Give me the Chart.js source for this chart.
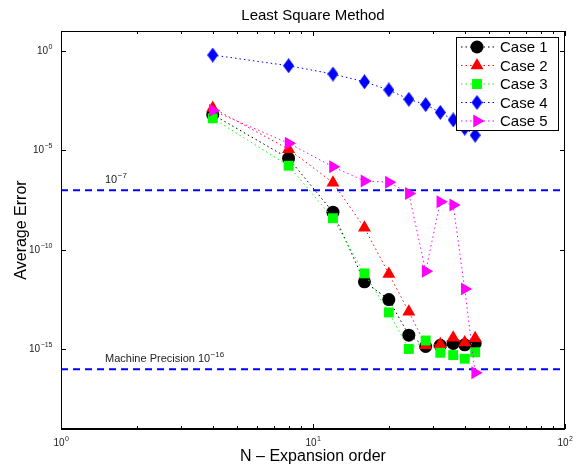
<!DOCTYPE html>
<html>
<head>
<meta charset="utf-8">
<script src="https://cdn.jsdelivr.net/npm/chart.js@4.4.0/dist/chart.umd.min.js"></script>
<style>
  html, body { margin: 0; padding: 0; background: #fff; }
</style>
</head>
<body>
<canvas id="errorChart" width="581" height="466"></canvas>
<script>
// N - expansion order
const orders = [4, 8, 12, 16, 20, 24, 28, 32, 36, 40, 44];

// average error per case
const case1 = [6.3e-4, 4.0e-6, 7.9e-9, 2.5e-12, 3.2e-13, 5.2e-15, 1.4e-15, 1.6e-15, 2.0e-15, 1.7e-15, 2.0e-15];
const case2 = [1.35e-3, 1.15e-5, 2.4e-7, 1.3e-9, 6.2e-12, 7.9e-14, 1.6e-15, 1.8e-15, 3.9e-15, 2.2e-15, 3.6e-15];
const case3 = [4.1e-4, 1.7e-6, 3.9e-9, 6.6e-12, 7.2e-14, 1.05e-15, 2.8e-15, 6.8e-16, 5.2e-16, 3.4e-16, 7.2e-16];
const case4 = [0.62, 0.18, 0.069, 0.028, 0.011, 3.7e-3, 2.0e-3, 8.1e-4, 3.4e-4, 1.3e-4, 5.8e-5];
const case5 = [1.0e-3, 2.3e-5, 1.5e-6, 2.9e-7, 2.5e-7, 6.9e-8, 8.5e-12, 2.6e-8, 1.8e-8, 1.1e-12, 6.8e-17];

const caseNames = ['Case 1', 'Case 2', 'Case 3', 'Case 4', 'Case 5'];

// axes
const xRange = [1, 100];
const yRange = [1e-19, 10];
const xTickExp = [0, 1, 2];
const yTickExp = [0, -5, -10, -15];

// reference lines
const tolerance = 1e-7;
const machinePrecision = 1e-16;

const FONT = '"Liberation Sans", Arial, Helvetica, sans-serif';

function diamond(color, w, h) {
  const c = document.createElement('canvas');
  c.width = w; c.height = h;
  const g = c.getContext('2d');
  g.fillStyle = color;
  g.beginPath();
  g.moveTo(w / 2, 0);
  g.lineTo(w, h / 2);
  g.lineTo(w / 2, h);
  g.lineTo(0, h / 2);
  g.closePath();
  g.fill();
  return c;
}

function pts(values) {
  return orders.map((n, i) => ({ x: n, y: values[i] }));
}

function series(label, values, color, style, radius, rotation, order) {
  return {
    label: label,
    data: pts(values),
    borderColor: color,
    backgroundColor: color,
    borderWidth: 1,
    borderDash: [1.5, 3],
    pointStyle: style,
    pointRadius: radius,
    pointRotation: rotation,
    pointBorderWidth: 0,
    pointBackgroundColor: color,
    order: order
  };
}

function refLine(value) {
  return {
    label: '',
    data: [{ x: xRange[0], y: value }, { x: xRange[1], y: value }],
    borderColor: '#0000ff',
    borderWidth: 2,
    borderDash: [7, 5],
    pointRadius: 0,
    order: 10,
    isRef: true
  };
}

const datasets = [
  series(caseNames[0], case1, '#000000', 'circle', 6.5, 0, 5),
  series(caseNames[1], case2, '#ff0000', 'triangle', 7.5, 0, 4),
  series(caseNames[2], case3, '#00ff00', 'rect', 7, 0, 3),
  series(caseNames[3], case4, '#0000ff', diamond('#0000ff', 11, 15), 7, 0, 2),
  series(caseNames[4], case5, '#ff00ff', 'triangle', 7.5, 90, 1),
  refLine(tolerance),
  refLine(machinePrecision)
];

function powText(ctx, exp, x, baseline, align, size) {
  const base = '10';
  const sup = String(exp).replace('-', '\u2212');
  ctx.font = size + 'px ' + FONT;
  const bw = ctx.measureText(base).width;
  const supSize = Math.round(size * 0.72);
  ctx.font = supSize + 'px ' + FONT;
  const sw = ctx.measureText(sup).width;
  let left = x;
  if (align === 'right') left = x - bw - sw;
  if (align === 'center') left = x - (bw + sw) / 2;
  ctx.textAlign = 'left';
  ctx.textBaseline = 'alphabetic';
  ctx.font = size + 'px ' + FONT;
  ctx.fillText(base, left, baseline);
  ctx.font = supSize + 'px ' + FONT;
  ctx.fillText(sup, left + bw + 0.5, baseline - size * 0.5);
  return left + bw + sw;
}

const framePlugin = {
  id: 'frame',
  afterDraw(chart) {
    const ctx = chart.ctx;
    const a = chart.chartArea;
    const xs = chart.scales.x, ys = chart.scales.y;
    ctx.save();
    ctx.fillStyle = '#000';
    ctx.strokeStyle = '#000';

    // box
    ctx.lineWidth = 1;
    ctx.strokeRect(a.left + 0.5, a.top + 0.5, a.right - a.left - 1, a.bottom - a.top);
    ctx.lineWidth = 2;
    ctx.beginPath();
    ctx.moveTo(a.left, a.bottom);
    ctx.lineTo(a.right, a.bottom);
    ctx.stroke();

    // x ticks (major + minor), inside, top and bottom
    ctx.lineWidth = 1;
    ctx.beginPath();
    for (let d = 0; d < 2; d++) {
      for (let m = 1; m <= 10; m++) {
        const px = Math.round(xs.getPixelForValue(m * Math.pow(10, d))) + 0.5;
        const len = (m === 1 || m === 10) ? 5 : 3;
        ctx.moveTo(px, a.bottom); ctx.lineTo(px, a.bottom - len);
        ctx.moveTo(px, a.top); ctx.lineTo(px, a.top + len);
      }
    }
    // y ticks, inside, left and right
    yTickExp.forEach(e => {
      const py = Math.round(ys.getPixelForValue(Math.pow(10, e))) + 0.5;
      ctx.moveTo(a.left, py); ctx.lineTo(a.left + 5, py);
      ctx.moveTo(a.right, py); ctx.lineTo(a.right - 5, py);
    });
    ctx.stroke();

    // tick labels
    ctx.fillStyle = '#222';
    xTickExp.forEach(e => {
      powText(ctx, e, xs.getPixelForValue(Math.pow(10, e)), a.bottom + 17, 'center', 10);
    });
    yTickExp.forEach(e => {
      powText(ctx, e, a.left - 9, ys.getPixelForValue(Math.pow(10, e)) + 3, 'right', 10);
    });

    // reference line notes
    powText(ctx, -7, 105, ys.getPixelForValue(tolerance) - 7, 'left', 11);
    ctx.font = '11px ' + FONT;
    ctx.textAlign = 'left';
    const mp = 'Machine Precision ';
    ctx.fillText(mp, 105, ys.getPixelForValue(machinePrecision) - 7);
    powText(ctx, -16, 105 + ctx.measureText(mp).width, ys.getPixelForValue(machinePrecision) - 7, 'left', 11);

    // title and axis labels
    ctx.fillStyle = '#000';
    const cx = (a.left + a.right) / 2;
    ctx.textAlign = 'center';
    ctx.textBaseline = 'middle';
    ctx.font = '15px ' + FONT;
    ctx.fillText('Least Square Method', cx, 16);
    ctx.font = '16px ' + FONT;
    ctx.fillText('N \u2013 Expansion order', cx, 457);
    ctx.save();
    ctx.translate(22, (a.top + a.bottom) / 2);
    ctx.rotate(-Math.PI / 2);
    ctx.fillText('Average Error', 0, 0);
    ctx.restore();

    // legend box
    const lx = 456, ly = 37, lw = 102, lh = 93;
    ctx.fillStyle = '#fff';
    ctx.fillRect(lx, ly, lw, lh);
    ctx.strokeStyle = '#000';
    ctx.lineWidth = 1;
    ctx.strokeRect(lx + 0.5, ly + 0.5, lw, lh);
    chart.data.datasets.forEach((ds, i) => {
      if (ds.isRef) return;
      const ry = ly + 10 + i * 18.5;
      ctx.strokeStyle = ds.borderColor;
      ctx.setLineDash(ds.borderDash);
      ctx.beginPath();
      ctx.moveTo(lx + 5, ry); ctx.lineTo(lx + 38, ry);
      ctx.stroke();
      ctx.setLineDash([]);
      ctx.fillStyle = ds.pointBackgroundColor;
      Chart.helpers.drawPoint(ctx, {
        pointStyle: ds.pointStyle, radius: ds.pointRadius,
        rotation: ds.pointRotation, borderWidth: 0
      }, lx + 21, ry);
      ctx.fillStyle = '#000';
      ctx.font = '15px ' + FONT;
      ctx.textAlign = 'left';
      ctx.textBaseline = 'middle';
      ctx.fillText(ds.label, lx + 44, ry + 1);
    });
    ctx.restore();
  }
};

new Chart(document.getElementById('errorChart'), {
  type: 'line',
  data: { datasets: datasets },
  options: {
    responsive: false,
    animation: false,
    layout: { padding: { left: 61, right: 16, top: 31, bottom: 37 } },
    plugins: { legend: { display: false }, tooltip: { enabled: false } },
    scales: {
      x: { type: 'logarithmic', min: xRange[0], max: xRange[1], display: false },
      y: { type: 'logarithmic', min: yRange[0], max: yRange[1], display: false }
    }
  },
  plugins: [framePlugin]
});
</script>
</body>
</html>
